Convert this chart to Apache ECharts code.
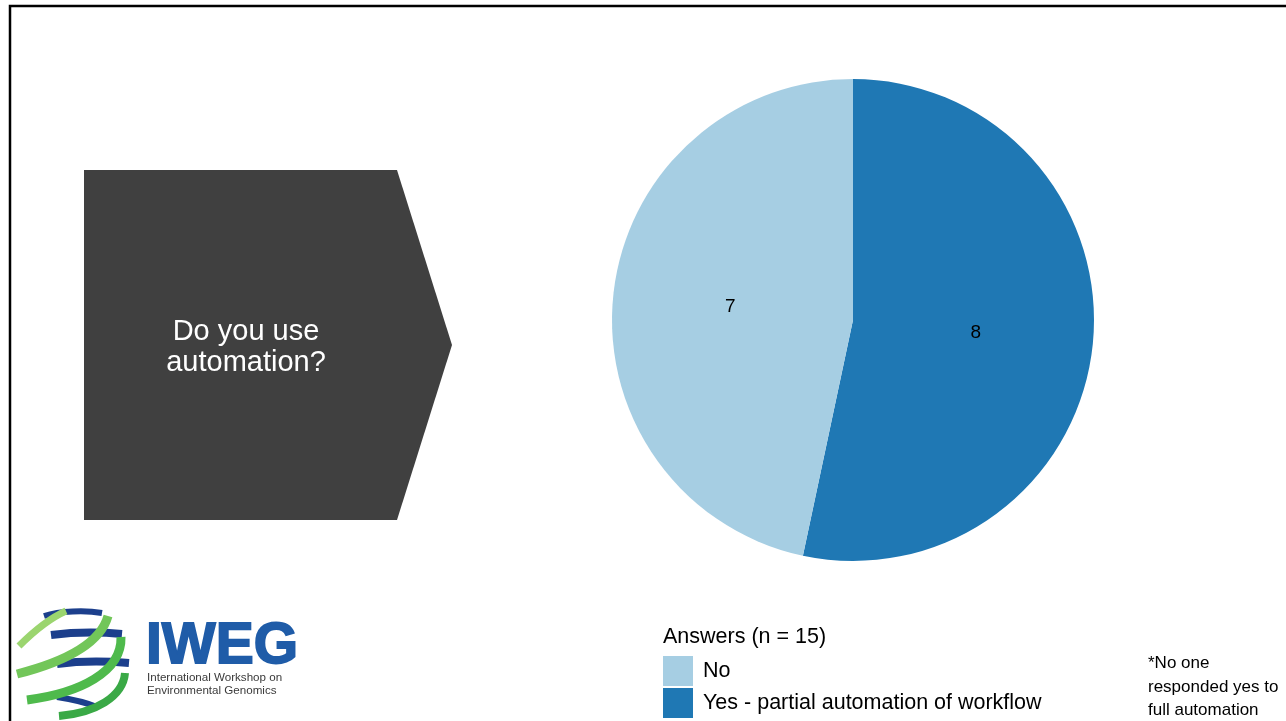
<!DOCTYPE html>
<html>
<head>
<meta charset="utf-8">
<title>Do you use automation?</title>
<script src="https://cdn.jsdelivr.net/npm/echarts@6/dist/echarts.min.js"></script>
<style>
  html, body { margin: 0; padding: 0; background: #ffffff; }
  #chart { width: 1286px; height: 721px; }
</style>
</head>
<body>
<div id="chart"></div>
<script>
// Survey answers
const categories = ['No', 'Yes - partial automation of workflow'];
const answerCounts = [7, 8];
const sliceColors = ['#a6cee3', '#1f78b4'];
const legendTitle = 'Answers (n = 15)';
const questionText = 'Do you use\nautomation?';
const footnote = '*No one\nresponded yes to\nfull automation';

// Slices run clockwise from 12 o'clock, "Yes" first
const pieOrder = [1, 0];
const pieData = pieOrder.map(i => ({
  name: categories[i],
  value: answerCounts[i],
  itemStyle: { color: sliceColors[i] }
}));

const chart = echarts.init(document.getElementById('chart'), null, { renderer: 'canvas' });

const sans = '"Liberation Sans", Arial, sans-serif';

// One legend block per answer, stacked under the heading
const legendTop = 656;
const legendRow = 32;
const legends = categories.map((name, i) => ({
  orient: 'vertical',
  left: 663,
  top: legendTop + i * legendRow,
  padding: 0,
  itemWidth: 30,
  itemHeight: 30,
  icon: 'rect',
  data: [name],
  selectedMode: false,
  textStyle: {
    fontFamily: sans,
    fontSize: 21.5,
    color: '#000000',
    padding: [2, 0, 0, 5]
  }
}));

// Logo ribbons
const blue = '#1c3f8c';
function ribbon(x1, y1, cx1, cy1, cx2, cy2, x2, y2, color, width) {
  return {
    type: 'bezierCurve',
    shape: { x1, y1, cpx1: cx1, cpy1: cy1, cpx2: cx2, cpy2: cy2, x2, y2 },
    style: { stroke: color, lineWidth: width, fill: null, lineCap: 'butt' },
    silent: true
  };
}

const option = {
  backgroundColor: '#ffffff',
  animation: false,
  legend: legends,
  series: [{
    type: 'pie',
    center: [853, 320],
    radius: 241,
    startAngle: 90,
    clockwise: true,
    silent: true,
    data: pieData,
    itemStyle: { borderWidth: 0 },
    label: {
      show: true,
      position: 'inside',
      formatter: '{c}',
      fontFamily: sans,
      fontSize: 19,
      color: '#000000'
    },
    labelLine: { show: false },
    emphasis: { disabled: true }
  }],
  graphic: [
    // slide frame
    {
      type: 'polyline',
      shape: { points: [[10, 721], [10, 6], [1286, 6]] },
      style: { stroke: '#000000', lineWidth: 2.5, fill: null },
      silent: true
    },
    // question arrow
    {
      type: 'polygon',
      shape: { points: [[84, 170], [397, 170], [452, 345], [397, 520], [84, 520]] },
      style: { fill: '#404040' },
      silent: true
    },
    {
      type: 'text',
      x: 246,
      y: 347,
      style: {
        text: questionText,
        fill: '#ffffff',
        font: '29px ' + sans,
        lineHeight: 31,
        align: 'center',
        verticalAlign: 'middle'
      },
      silent: true
    },
    // legend heading
    {
      type: 'text',
      x: 663,
      y: 637,
      style: {
        text: legendTitle,
        fill: '#000000',
        font: '21.5px ' + sans,
        verticalAlign: 'middle'
      },
      silent: true
    },
    // footnote
    {
      type: 'text',
      x: 1148,
      y: 687,
      style: {
        text: footnote,
        fill: '#000000',
        font: '17px ' + sans,
        lineHeight: 23.5,
        verticalAlign: 'middle'
      },
      silent: true
    },
    // IWEG logo: globe ribbons
    ribbon(44, 616, 60, 611, 85, 610, 102, 613, blue, 6),
    ribbon(51, 635, 75, 632, 100, 632, 122, 634, blue, 8),
    ribbon(57, 664, 80, 661, 105, 661, 129, 663, blue, 8),
    ribbon(57, 697, 70, 699, 85, 702, 97, 707, blue, 6),
    ribbon(19, 646, 33, 632, 48, 619, 66, 611, '#9bd56f', 7),
    ribbon(17, 674, 60, 663, 100, 645, 108, 616, '#72c659', 9),
    ribbon(27, 700, 80, 693, 122, 672, 121, 637, '#4fba4c', 9),
    ribbon(59, 716, 95, 713, 123, 697, 125, 673, '#3aa946', 8),
    // IWEG logo: wordmark
    {
      type: 'text',
      x: 146,
      y: 647,
      style: {
        text: 'IWEG',
        fill: '#1f5ca8',
        stroke: '#1f5ca8',
        lineWidth: 1.8,
        font: '900 57px ' + sans,
        verticalAlign: 'middle'
      },
      silent: true
    },
    {
      type: 'text',
      x: 147,
      y: 684,
      style: {
        text: 'International Workshop on\nEnvironmental Genomics',
        fill: '#3a3a3a',
        font: '11.6px ' + sans,
        lineHeight: 13,
        verticalAlign: 'middle'
      },
      silent: true
    }
  ]
};

chart.setOption(option);
</script>
</body>
</html>
